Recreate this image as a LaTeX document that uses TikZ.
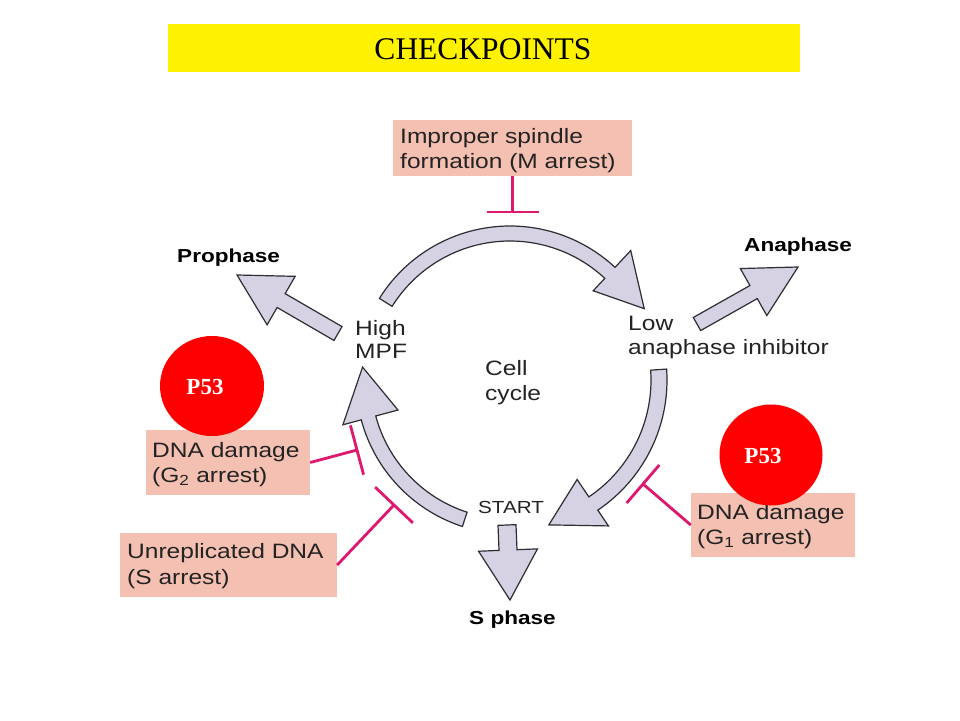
\documentclass[tikz,border=0pt]{standalone}
\usepackage{fontspec}
\setmainfont{Liberation Serif}
\newfontfamily\lblfont[FakeStretch=1.18]{Liberation Sans}
\newfontfamily\blblfont[FakeStretch=1.2]{Liberation Sans}
\usetikzlibrary{calc,shapes.geometric}
\definecolor{boxpink}{RGB}{243,192,178}
\definecolor{inhib}{RGB}{222,24,110}
\definecolor{arrowfill}{RGB}{214,210,228}
\definecolor{arrowline}{RGB}{45,45,50}
\definecolor{lbltext}{RGB}{35,35,35}

\newcommand\tbar[3]{%
  \draw[inh] (#1) -- (#2);
  \draw[inh] ($(#2)!#3!90:(#1)$) -- ($(#2)!#3!-90:(#1)$);}

\newcommand\straightarrow[5]{%
  \coordinate (#1-h) at ($(#2)!#5!(#1)$);
  \draw[bigarrow] ($(#1)!#3!90:(#2)$) -- ($(#1-h)!#3!-90:(#1)$) -- ($(#1-h)!#4!-90:(#1)$) -- (#2)
     -- ($(#1-h)!#4!90:(#1)$) -- ($(#1-h)!#3!90:(#1)$) -- ($(#1)!#3!-90:(#2)$) -- cycle;}

\newcommand\curvedarrow[8]{%
  \draw[bigarrow] ($(cc)+(#1:#4)$) arc[start angle=#1,end angle=#2,radius=#4]
     -- ($(cc)+(#2:#6)$) -- ($(cc)+(#7:#8)$) -- ($(cc)+(#2:#5)$) -- ($(cc)+(#2:#3)$)
     arc[start angle=#2,end angle=#1,radius=#3] -- cycle;}

\begin{document}
\begin{tikzpicture}[x=1pt,y=-1pt,
  lbl/.style={font=\lblfont\fontsize{20.8}{22}\selectfont, text=lbltext, inner sep=0, anchor=base west},
  blbl/.style={font=\blblfont\bfseries\fontsize{18.8}{22}\selectfont, text=black, inner sep=0, anchor=base west},
  smlbl/.style={font=\lblfont\fontsize{17.5}{20}\selectfont, text=lbltext, inner sep=0, anchor=base west},
  pinkbox/.style={rectangle, fill=boxpink, draw=none, inner sep=0},
  inh/.style={draw=inhib, line width=2.8pt},
  bigarrow/.style={fill=arrowfill, draw=arrowline, line width=1.2pt, line join=miter},
  p53/.style={ellipse, fill=red, draw=none, inner sep=0},
  p53txt/.style={text=white, font=\bfseries\fontsize{23}{23}\selectfont, inner sep=0, anchor=base}
]
\useasboundingbox (0,0) rectangle (960,720);
\fill[white] (0,0) rectangle (960,720);

% title
\node[rectangle, fill=yellow, minimum width=632, minimum height=48, inner sep=0] (title) at (484,48) {};
\node[font=\fontsize{31.5}{31.5}\selectfont, inner sep=0, anchor=base] (titletxt) at (483,59) {CHECKPOINTS};

% pink boxes
\node[pinkbox, minimum width=239, minimum height=56] (mbox) at (512.5,148) {};
\node[lbl] (mt1) at (400,143) {Improper spindle};
\node[lbl] (mt2) at (400,168) {formation (M arrest)};

\node[pinkbox, minimum width=164, minimum height=65] (g2box) at (228,462.5) {};
\node[lbl] (g2t1) at (152,457) {DNA damage};
\node[lbl] (g2t2) at (152,482) {(G\textsubscript{2} arrest)};

\node[pinkbox, minimum width=217, minimum height=64] (sbox) at (228.5,565) {};
\node[lbl] (st1) at (127,558) {Unreplicated DNA};
\node[lbl] (st2) at (127,584) {(S arrest)};

\node[pinkbox, minimum width=164, minimum height=64] (g1box) at (773,525) {};
\node[lbl] (g1t1) at (697,519) {DNA damage};
\node[lbl] (g1t2) at (697,544) {(G\textsubscript{1} arrest)};

% P53 circles
\node[p53, minimum width=104, minimum height=100] (p53a) at (212,386) {};
\node[p53txt] (p53at) at (205,394) {P53};
\node[p53, minimum width=103, minimum height=101] (p53b) at (771,455) {};
\node[p53txt] (p53bt) at (763,463) {P53};

% labels
\node[blbl] (prophase) at (177,262) {Prophase};
\node[blbl] (anaphase) at (744,251) {Anaphase};
\node[blbl] (sphase) at (469,624) {S phase};
\node[lbl] (high) at (355,335) {High};
\node[lbl] (mpf) at (355,358) {MPF};
\node[lbl] (low) at (628,330) {Low};
\node[lbl] (inhibitor) at (628,354) {anaphase inhibitor};
\node[lbl] (cell) at (485,375) {Cell};
\node[lbl] (cycle) at (485,400) {cycle};
\node[smlbl] (start) at (478,513) {START};

% cycle arrows
\coordinate (cc) at (510,380);
\curvedarrow{-148}{-47}{139}{154}{122}{177}{-28}{152}
\curvedarrow{-4}{56}{141}{157}{120}{176}{75}{150}
\curvedarrow{108}{165}{139}{154}{116}{173}{185}{148}

% straight arrows
\coordinate (pro-tail) at (338,333.5);
\coordinate (pro-tip) at (237,275);
\straightarrow{pro-tail}{pro-tip}{8pt}{28pt}{51pt}
\coordinate (ana-tail) at (697,324);
\coordinate (ana-tip) at (798,267);
\straightarrow{ana-tail}{ana-tip}{7.5pt}{27pt}{51pt}
\coordinate (sph-tail) at (507,525);
\coordinate (sph-tip) at (510,600);
\straightarrow{sph-tail}{sph-tip}{9pt}{29.5pt}{50pt}

% inhibitors
\coordinate (mT) at (512.5,212);
\tbar{mbox.south}{mT}{26pt}
\coordinate (g2T) at (357,450);
\tbar{g2box.east}{g2T}{25.5pt}
\coordinate (sT) at (394,505);
\tbar{sbox.east}{sT}{26pt}
\coordinate (g1T) at (643,484);
\tbar{g1box.west}{g1T}{25pt}
\end{tikzpicture}
\end{document}
